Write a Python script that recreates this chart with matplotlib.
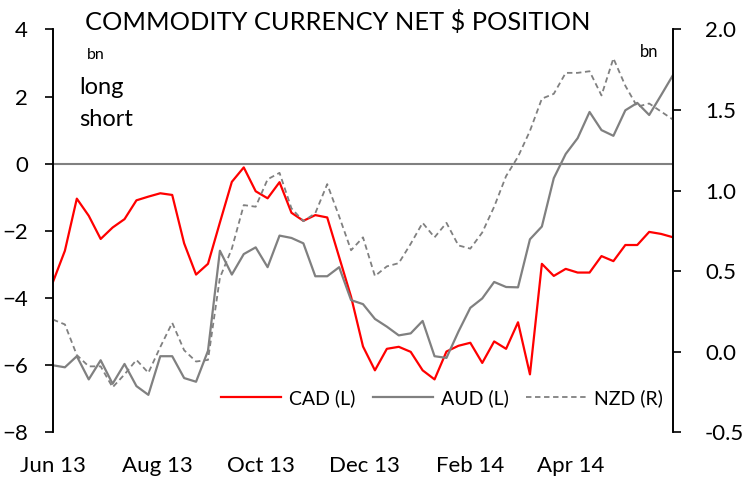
import numpy as np
import pandas as pd
import matplotlib
matplotlib.use("Agg")
import matplotlib.pyplot as plt

plt.rcParams['font.family'] = ['Lato', 'DejaVu Sans']

# weekly net positions, bn
dates = pd.date_range('2013-06-04', periods=53, freq='7D')
cad = [-3.52, -2.59, -1.04, -1.55, -2.24, -1.90, -1.65, -1.09, -0.98, -0.88,
       -0.93, -2.37, -3.30, -2.98, -1.75, -0.54, -0.11, -0.82, -1.03, -0.55,
       -1.46, -1.70, -1.53, -1.60, -2.78, -3.96, -5.44, -6.15, -5.51, -5.45,
       -5.60, -6.15, -6.42, -5.59, -5.42, -5.33, -5.93, -5.29, -5.51, -4.72,
       -6.27, -2.98, -3.34, -3.13, -3.24, -3.24, -2.75, -2.90, -2.42, -2.42,
       -2.03, -2.09, -2.19]
aud = [-6.00, -6.06, -5.73, -6.42, -5.85, -6.55, -5.96, -6.62, -6.88, -5.73,
       -5.73, -6.38, -6.49, -5.57, -2.59, -3.30, -2.69, -2.49, -3.08, -2.14,
       -2.21, -2.37, -3.35, -3.35, -3.08, -4.06, -4.18, -4.62, -4.85, -5.11,
       -5.05, -4.68, -5.73, -5.78, -5.00, -4.29, -4.01, -3.52, -3.67, -3.68,
       -2.25, -1.87, -0.43, 0.29, 0.76, 1.54, 1.00, 0.83, 1.59, 1.81,
       1.45, 2.04, 2.64]
nzd = [0.20, 0.17, -0.02, -0.09, -0.09, -0.22, -0.14, -0.05, -0.13, 0.03,
       0.18, 0.01, -0.06, -0.05, 0.46, 0.64, 0.91, 0.90, 1.07, 1.11,
       0.89, 0.81, 0.86, 1.04, 0.84, 0.63, 0.71, 0.47, 0.53, 0.55,
       0.67, 0.80, 0.71, 0.80, 0.66, 0.64, 0.74, 0.90, 1.09, 1.21,
       1.37, 1.57, 1.60, 1.73, 1.73, 1.74, 1.59, 1.82, 1.65, 1.52,
       1.54, 1.49, 1.44]

tick_dates = pd.to_datetime(['2013-06-04', '2013-08-04', '2013-10-04',
                             '2013-12-04', '2014-02-04', '2014-04-04'])
tick_labels = ['Jun 13', 'Aug 13', 'Oct 13', 'Dec 13', 'Feb 14', 'Apr 14']

fig = plt.figure(figsize=(7.45, 4.83), dpi=100)
ax = fig.add_axes([0.0711, 0.1046, 0.8323, 0.8347])
ax2 = ax.twinx()

ax.axhline(0, color='#808080', lw=1.5, zorder=1)
l1, = ax.plot(dates, cad, color='#ff0000', lw=1.6, label='CAD (L)')
l2, = ax.plot(dates, aud, color='#808080', lw=1.6, label='AUD (L)')
l3, = ax2.plot(dates, nzd, color='#808080', lw=1.3, ls=(0, (3, 2)), label='NZD (R)')

ax.set_ylim(-8, 4)
ax.set_yticks(range(-8, 5, 2))
ax2.set_ylim(-0.5, 2.0)
ax2.set_yticks([-0.5, 0.0, 0.5, 1.0, 1.5, 2.0])
ax2.set_yticklabels(['-0.5', '0.0', '0.5', '1.0', '1.5', '2.0'])
ax.set_xlim(dates[0], dates[-1])
ax.set_xticks(tick_dates)
ax.set_xticklabels(tick_labels)

for a in (ax, ax2):
    a.spines['top'].set_visible(False)
    a.spines['bottom'].set_visible(False)
    a.spines['left'].set_linewidth(1.2)
    a.spines['right'].set_linewidth(1.2)
ax.tick_params(axis='y', direction='out', length=6, width=1.2, labelsize=16, pad=12)
ax2.tick_params(axis='y', direction='out', length=6, width=1.2, labelsize=16, pad=17)
ax.tick_params(axis='x', length=0, labelsize=16, pad=17)

fig.text(0.114, 0.955, 'COMMODITY CURRENCY NET $ POSITION', fontsize=18.3, va='center')
fig.text(0.117, 0.886, 'bn', fontsize=11.5, va='center')
fig.text(0.106, 0.818, 'long', fontsize=17, va='center')
fig.text(0.106, 0.752, 'short', fontsize=17, va='center')
fig.text(0.859, 0.892, 'bn', fontsize=12, va='center')

ax.legend(handles=[l1, l2, l3], loc='center', bbox_to_anchor=(0.593, 0.176),
          bbox_transform=fig.transFigure, ncol=3, frameon=False, fontsize=14,
          handlelength=3.1, columnspacing=0.9, handletextpad=0.4)

fig.savefig('out.png', dpi=100)
